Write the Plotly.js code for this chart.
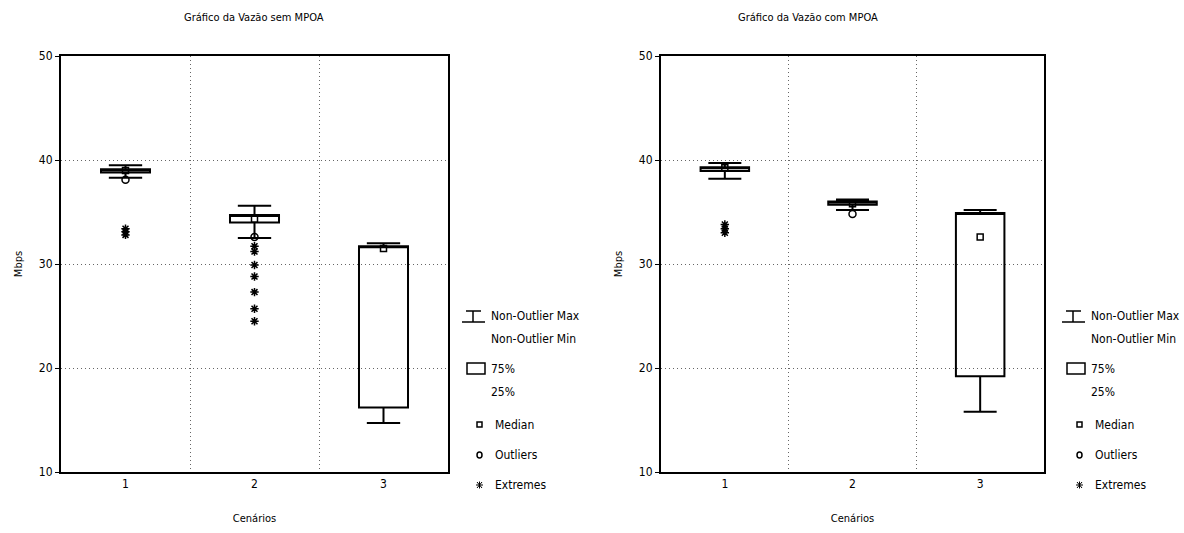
<!DOCTYPE html>
<html><head><meta charset="utf-8">
<script src="https://cdn.plot.ly/plotly-3.0.1.min.js"></script>
<style>html,body{margin:0;padding:0;background:#fff}#chart{width:1184px;height:533px}</style>
</head><body><div id="chart"></div>
<script>
// ---- data ----
const categories = ['1', '2', '3'];
const yTicks = [10, 20, 30, 40, 50];

// Gráfico da Vazão sem MPOA
const semMin = [38.3, 32.5, 14.7];
const semQ1 = [38.8, 34.0, 16.2];
const semMedian = [39.0, 34.3, 31.5];
const semQ3 = [39.1, 34.7, 31.7];
const semMax = [39.5, 35.6, 32.0];
const semOutX = ['1', '2'];
const semOutY = [38.1, 32.6];
const semExtX = ['1', '1', '1', '2', '2', '2', '2', '2', '2', '2'];
const semExtY = [33.4, 33.1, 32.8, 31.7, 31.2, 29.9, 28.8, 27.3, 25.7, 24.5];

// Gráfico da Vazão com MPOA
const comMin = [38.2, 35.2, 15.8];
const comQ1 = [38.95, 35.7, 19.2];
const comMedian = [39.25, 35.8, 32.6];
const comQ3 = [39.3, 36.0, 34.9];
const comMax = [39.7, 36.2, 35.2];
const comOutX = ['2'];
const comOutY = [34.8];
const comExtX = ['1', '1', '1'];
const comExtY = [33.8, 33.4, 33.0];

const legendLabels = ['Non-Outlier Max', 'Non-Outlier Min', '75%', '25%', 'Median', 'Outliers', 'Extremes'];

// ---- helpers ----
const W = 1184, H = 533;
const px = x => x / W;
const py = y => 1 - y / H;
const FONT = '"DejaVu Sans Condensed", "Liberation Sans", Arial, sans-serif';
const GRID = '#666';

function boxTrace(q1, q3, lo, hi, xa, ya) {
  return {
    type: 'box', x: categories, q1: q1, median: q3, q3: q3,
    lowerfence: lo, upperfence: hi, xaxis: xa, yaxis: ya,
    width: 0.38, whiskerwidth: 0.68, boxpoints: false,
    fillcolor: 'rgba(255,255,255,0)', line: {color: '#000', width: 2},
    showlegend: false, hoverinfo: 'skip'
  };
}
function pts(x, y, symbol, size, xa, ya) {
  return {
    type: 'scatter', mode: 'markers', x: x, y: y, xaxis: xa, yaxis: ya,
    marker: {symbol: symbol, size: size, color: '#000', line: {color: '#000', width: 1.5}},
    showlegend: false, hoverinfo: 'skip', cliponaxis: false
  };
}

const data = [
  boxTrace(semQ1, semQ3, semMin, semMax, 'x', 'y'),
  pts(categories, semMedian, 'square-open', 6, 'x', 'y'),
  pts(semOutX, semOutY, 'circle-open', 7, 'x', 'y'),
  pts(semExtX, semExtY, 'asterisk-open', 7, 'x', 'y'),
  boxTrace(comQ1, comQ3, comMin, comMax, 'x2', 'y2'),
  pts(categories, comMedian, 'square-open', 6, 'x2', 'y2'),
  pts(comOutX, comOutY, 'circle-open', 7, 'x2', 'y2'),
  pts(comExtX, comExtY, 'asterisk-open', 7, 'x2', 'y2')
];

function xAxis(domain, anchor) {
  return {
    domain: domain, anchor: anchor, type: 'category', categoryorder: 'array', categoryarray: categories,
    range: [-0.5, 2.5], tickson: 'boundaries', ticks: '', showgrid: true,
    gridcolor: GRID, griddash: '1px,3px', gridwidth: 1,
    showline: true, linecolor: '#000', linewidth: 2, mirror: true, zeroline: false,
    tickfont: {family: FONT, size: 12, color: '#000'},
    title: {text: 'Cenários', font: {family: FONT, size: 11, color: '#000'}, standoff: 24}
  };
}
function yAxis(domain, anchor) {
  return {
    domain: domain, anchor: anchor, range: [10, 50], tickvals: yTicks, ticktext: yTicks.map(String),
    ticks: 'outside', ticklen: 4, tickcolor: '#000', showgrid: true,
    gridcolor: GRID, griddash: '1px,3px', gridwidth: 1,
    showline: true, linecolor: '#000', linewidth: 2, mirror: true, zeroline: false,
    tickfont: {family: FONT, size: 12, color: '#000'},
    title: {text: 'Mbps', font: {family: FONT, size: 11, color: '#000'}, standoff: 14}
  };
}

const yDom = [py(472), py(56)];
const layout = {
  width: W, height: H, margin: {l: 0, r: 0, t: 0, b: 0},
  paper_bgcolor: '#fff', plot_bgcolor: '#fff', showlegend: false,
  xaxis: xAxis([px(61), px(448)], 'y'),
  yaxis: yAxis(yDom, 'x'),
  xaxis2: xAxis([px(661), px(1044)], 'y2'),
  yaxis2: yAxis(yDom, 'x2'),
  annotations: [],
  shapes: []
};

const ann = (text, x, y, opts) => Object.assign({
  text: text, xref: 'paper', yref: 'paper', x: px(x), y: py(y), showarrow: false,
  xanchor: 'left', yanchor: 'middle', font: {family: FONT, size: 12, color: '#000'}
}, opts || {});

layout.annotations.push(ann('Gráfico da Vazão sem MPOA', 254, 18, {xanchor: 'center', font: {family: FONT, size: 11, color: '#000'}}));
layout.annotations.push(ann('Gráfico da Vazão com MPOA', 808, 18, {xanchor: 'center', font: {family: FONT, size: 11, color: '#000'}}));

const line = (x0, y0, x1, y1, w) => ({type: 'line', xref: 'paper', yref: 'paper',
  x0: px(x0), y0: py(y0), x1: px(x1), y1: py(y1), line: {color: '#000', width: w || 1.5}});

[0, 600].forEach(dx => {
  const rowsY = [316, 339, 369, 392, 425, 455, 485];
  const rowsX = [489, 489, 489, 489, 493, 493, 493];
  legendLabels.forEach((t, i) => layout.annotations.push(ann(t, rowsX[i] + dx, rowsY[i])));
  // whisker icon
  layout.shapes.push(line(466 + dx, 311, 481 + dx, 311));
  layout.shapes.push(line(473 + dx, 311, 473 + dx, 322));
  layout.shapes.push(line(462 + dx, 322, 485 + dx, 322));
  // box icon
  layout.shapes.push({type: 'rect', xref: 'paper', yref: 'paper', x0: px(467 + dx), x1: px(485 + dx),
    y0: py(363), y1: py(374), line: {color: '#000', width: 1.5}});
  // median icon
  layout.shapes.push({type: 'rect', xref: 'paper', yref: 'paper', x0: px(477 + dx), x1: px(482 + dx),
    y0: py(422), y1: py(427), line: {color: '#000', width: 1.5}});
  // outlier icon
  layout.shapes.push({type: 'circle', xref: 'paper', yref: 'paper', x0: px(477 + dx), x1: px(482 + dx),
    y0: py(452), y1: py(458), line: {color: '#000', width: 1.5}});
  // extreme icon
  layout.shapes.push(line(476 + dx, 485, 483 + dx, 485, 1));
  layout.shapes.push(line(477 + dx, 482, 482 + dx, 488, 1));
  layout.shapes.push(line(477 + dx, 488, 482 + dx, 482, 1));
  layout.shapes.push(line(479.5 + dx, 481.5, 479.5 + dx, 488.5, 1));
});

Plotly.newPlot('chart', data, layout, {staticPlot: true, displayModeBar: false});
</script>
</body></html>
